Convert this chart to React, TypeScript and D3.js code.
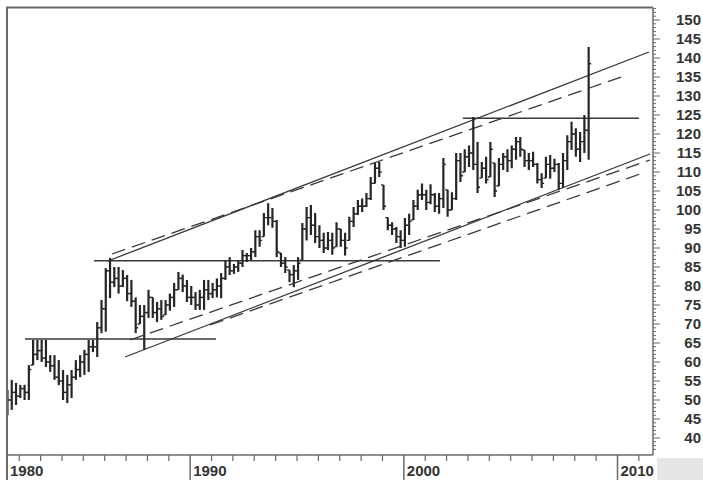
import React from "react";
import * as d3 from "d3";

// ---- data ----
const startYear = 1981.45;
const barsPerYear = 5;
const highs = [
  52.6, 55.3, 54.5, 54, 54, 59.2, 65.8, 65.8, 65.8, 65.8,
  61.8, 61.8, 60.5, 57.9, 56.6, 57.9, 60.5, 61.8, 63.2, 65.8,
  65.8, 70.5, 76.3, 84.7, 87.4, 85, 85, 84.2, 82.9, 81.6,
  77, 75, 75, 79, 77, 75.8, 76.3, 76.3, 78, 80.8,
  83.7, 83, 81.6, 80, 78.4, 79, 81.6, 81.6, 80.8, 82,
  83.4, 86.8, 87.6, 85.8, 86.8, 89.5, 88.7, 90, 94.7, 94.7,
  99.2, 101.8, 100.5, 97.4, 88.7, 87.6, 84.2, 85.5, 87.6, 96.6,
  100.8, 101.3, 99.2, 96, 94, 94.2, 94, 96.8, 95, 94,
  98.2, 100.8, 102.6, 103, 104.5, 108.7, 112.4, 112.6, 106.6, 98,
  96.8, 95.5, 94.7, 97.9, 99, 102.6, 105.3, 107, 105.3, 106.8,
  104.5, 104.5, 113.7, 105.3, 104.7, 115, 115, 116, 117, 124.5,
  117.9, 112.6, 114, 117.9, 112.4, 113.7, 115, 116, 117, 119.2,
  119.2, 115.8, 115, 115.3, 112.4, 109.7, 114, 114.5, 113.5, 112.4,
  115, 119.7, 123.2, 121.5, 120.5, 125, 142.9,
];
const lows = [
  46, 47.4, 48.7, 50.5, 50, 50, 59.2, 60.5, 60, 58.7,
  57.4, 55.3, 53.9, 50, 49.2, 50.5, 55.3, 56, 56.6, 57.4,
  62.6, 61.3, 67.6, 68, 76.8, 79.7, 78, 79.7, 76, 74.5,
  67.6, 70, 63.2, 71.6, 71.6, 70.5, 71.1, 72.4, 73.5, 74.5,
  79, 78.4, 75.8, 75, 73.7, 73.7, 73.7, 76.3, 76.8, 77,
  76.8, 81.6, 82.9, 83.2, 83.7, 85, 86.3, 86.8, 87.6, 90.3,
  93, 96, 95.3, 87.6, 85, 83.4, 81, 79.7, 81.6, 86.8,
  92, 93.4, 91.3, 90, 88.7, 89.5, 88.2, 90.3, 90.3, 88,
  92, 95.5, 98.7, 99.5, 100.8, 102.6, 107, 108.7, 100, 94.7,
  93.4, 91.3, 90, 90.3, 93.4, 97.4, 100, 102.6, 100, 101.5,
  99.5, 99, 100.5, 98.2, 100, 102.6, 107.4, 110, 111.3, 110.5,
  104.5, 108.4, 107, 108.7, 103.4, 106.3, 110.5, 110, 111, 113.2,
  114, 111.3, 110.5, 111.3, 107, 105.8, 108.4, 108.2, 110, 105.3,
  105.8, 110.5, 115.8, 114, 112.6, 115, 113.2,
];
const closes = [
  50, 52, 51, 53, 52, 58, 62, 63, 61, 60,
  59, 56, 55, 52, 54, 56, 58, 60, 62, 64,
  64, 69, 74, 84, 81, 82, 80, 82, 78, 76,
  69, 72, 73, 77, 73, 74, 72, 75, 77, 79,
  82, 80, 77, 77, 75, 77, 79, 78, 79, 80,
  82, 85, 84, 85, 86, 88, 88, 89, 93, 92,
  98, 98, 97, 89, 86, 85, 83, 84, 86, 95,
  98, 96, 93, 92, 90, 92, 90, 95, 92, 90,
  97, 99, 101, 101, 103, 107, 111, 110, 101, 96,
  95, 93, 92, 96, 97, 101, 104, 104, 102, 104,
  101, 103, 112, 100, 103, 113, 109, 114, 115, 112,
  106, 111, 108, 116, 105, 112, 114, 113, 116, 118,
  116, 113, 113, 112, 108, 107, 112, 111, 112, 107,
  113, 118, 120, 116, 118, 121, 138.5,
];
const firstOpen = 48;

// horizontal support/resistance lines: [startYear, endYear, value]
const horizontalLines = [
  [1982.27, 1991.21, 66.05],
  [1985.5, 2001.69, 86.66],
  [2002.76, 2011.01, 124.13],
];
// trend lines: [year1, value1, year2, value2]
const solidTrendLines = [
  [1986.15, 86.58, 2011.47, 141.58],
  [1986.95, 61.32, 2011.52, 114.74],
];
const dashedTrendLines = [
  [1986.34, 88.42, 2010.44, 135.53],
  [1987.18, 65.79, 2011.52, 113.16],
  [1990.93, 69.74, 2011.19, 109.74],
];
const yTickLabels = [150, 145, 140, 135, 130, 125, 120, 115, 110, 105, 100, 95, 90, 85, 80, 75, 70, 65, 60, 55, 50, 45, 40];
const decadeLabels = [1980, 1990, 2000, 2010];

// ---- layout ----
const W = 703;
const H = 480;
const plotLeft = 7;
const plotRight = 653;
const plotTop = 7.5;
const plotBottom = 455;

export default function App() {
  const x = d3.scaleLinear().domain([1980, 2010]).range([-23.5, 617.5]);
  const y = d3.scaleLinear().domain([40, 150]).range([438, 20]);

  const bars = highs.map((h, i) => {
    const yr = startYear + i / barsPerYear;
    const c = closes[i];
    let o = i === 0 ? firstOpen : closes[i - 1];
    o = Math.max(lows[i], Math.min(h, o));
    return { yr, h, l: lows[i], o, c };
  });

  const ink = "#262626";
  const lineInk = "#383838";
  const axisInk = "#6a6a6a";

  const minorY = d3.range(37, 154, 1);
  const years = d3.range(1981, 2012, 1);

  return (
    <div style={{ position: "fixed", left: 0, top: 0, width: W, height: H, background: "#fff" }}>
      <svg width={W} height={H} style={{ display: "block" }} fontFamily="'Liberation Sans', Arial, sans-serif">
        <defs>
          <clipPath id="plotClip">
            <rect x={plotLeft} y={plotTop} width={plotRight - plotLeft} height={plotBottom - plotTop} />
          </clipPath>
        </defs>
        <rect x={0} y={0} width={W} height={H} fill="#fff" />
        <rect x={657} y={458} width={46} height={22} fill="#e6e6e6" />

        <g clipPath="url(#plotClip)">
          {horizontalLines.map((d, i) => (
            <line key={"h" + i} x1={x(d[0])} x2={x(d[1])} y1={y(d[2])} y2={y(d[2])} stroke={lineInk} strokeWidth={1.4} />
          ))}
          {solidTrendLines.map((d, i) => (
            <line key={"s" + i} x1={x(d[0])} y1={y(d[1])} x2={x(d[2])} y2={y(d[3])} stroke={lineInk} strokeWidth={1.3} />
          ))}
          {dashedTrendLines.map((d, i) => (
            <line key={"d" + i} x1={x(d[0])} y1={y(d[1])} x2={x(d[2])} y2={y(d[3])} stroke={lineInk} strokeWidth={1.3} strokeDasharray="14 7" />
          ))}
          {bars.map((b, i) => {
            const cx = x(b.yr);
            return (
              <g key={"b" + i} stroke={ink}>
                <line x1={cx} x2={cx} y1={y(b.h)} y2={y(b.l)} strokeWidth={2.2} />
                <line x1={cx - 2.5} x2={cx} y1={y(b.o)} y2={y(b.o)} strokeWidth={1.4} />
                <line x1={cx} x2={cx + 2.5} y1={y(b.c)} y2={y(b.c)} strokeWidth={1.4} />
              </g>
            );
          })}
        </g>

        {/* frame */}
        <line x1={plotLeft - 1} x2={plotRight} y1={plotTop} y2={plotTop} stroke={axisInk} strokeWidth={2} />
        <line x1={plotLeft} x2={plotLeft} y1={plotTop} y2={H} stroke={axisInk} strokeWidth={2} />
        <line x1={plotRight} x2={plotRight} y1={plotTop} y2={plotBottom} stroke={axisInk} strokeWidth={1.5} />
        <line x1={plotLeft} x2={plotRight} y1={plotBottom} y2={plotBottom} stroke={axisInk} strokeWidth={1.5} />

        {/* right axis ticks */}
        {minorY.map((v) => (
          <line key={"my" + v} x1={plotRight} x2={plotRight + (v % 5 === 0 ? 7 : 3)} y1={y(v)} y2={y(v)} stroke={axisInk} strokeWidth={1} />
        ))}
        {yTickLabels.map((v) => (
          <text key={"yl" + v} x={701} y={y(v)} dy="0.36em" textAnchor="end" fontSize={15} fontWeight="bold" fill="#333">
            {v}
          </text>
        ))}

        {/* bottom axis ticks */}
        {years.map((yr) => {
          const px = x(yr);
          if (px < plotLeft || px > plotRight) return null;
          const major = yr % 10 === 0;
          return (
            <line key={"xt" + yr} x1={px} x2={px} y1={plotBottom} y2={major ? H : plotBottom + 6} stroke={axisInk} strokeWidth={major ? 1.5 : 1.2} />
          );
        })}
        {decadeLabels.map((yr) => (
          <text key={"xl" + yr} x={Math.max(x(yr) + 3, 10)} y={476} fontSize={15} fontWeight="bold" fill="#333">
            {yr}
          </text>
        ))}
      </svg>
    </div>
  );
}
